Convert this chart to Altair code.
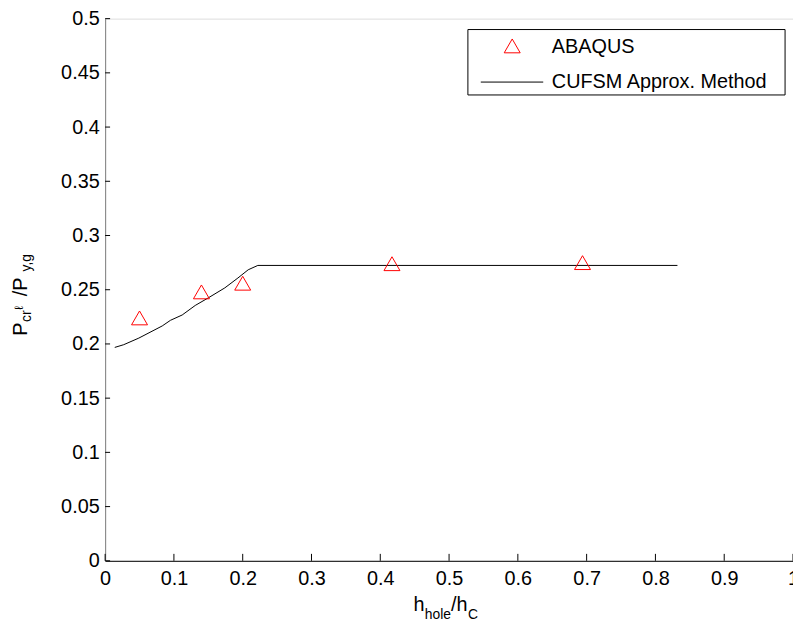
import altair as alt
import pandas as pd

# ---------------- data ----------------
curve_x = [0.014, 0.027, 0.049, 0.083, 0.095, 0.112, 0.131, 0.150, 0.174, 0.193, 0.208, 0.222, 0.832]
curve_y = [0.1968, 0.1993, 0.2054, 0.2166, 0.2218, 0.2267, 0.2355, 0.2425, 0.2517, 0.2608, 0.2684, 0.2724, 0.2724]
abaqus_x = [0.05, 0.14, 0.20, 0.417, 0.694]
abaqus_y = [0.224, 0.248, 0.256, 0.274, 0.275]
x_ticks = [0, 0.1, 0.2, 0.3, 0.4, 0.5, 0.6, 0.7, 0.8, 0.9, 1]
y_ticks = [0, 0.05, 0.1, 0.15, 0.2, 0.25, 0.3, 0.35, 0.4, 0.45, 0.5]
series_names = ["ABAQUS", "CUFSM Approx. Method"]

W, H = 694, 547
FONT = "Liberation Sans"
FS = 20

curve_df = pd.DataFrame({"x": curve_x, "y": curve_y})
abaqus_df = pd.DataFrame({"x": abaqus_x, "y": abaqus_y})
xt_df = pd.DataFrame({"v": x_ticks})
yt_df = pd.DataFrame({"v": y_ticks})
one = pd.DataFrame({"a": [0]})

xs = alt.Scale(domain=[0, 1], nice=False, zero=False)
ys = alt.Scale(domain=[0, 0.5], nice=False, zero=False)
xaxis = alt.Axis(values=x_ticks, format="~g", title="", grid=False, ticks=False, tickSize=0,
                 domainColor="#000000", labelFont=FONT, labelFontSize=FS, labelColor="#000000",
                 labelPadding=8, labelFlush=False, labelOverlap=False, labelBound=False)
yaxis = alt.Axis(values=y_ticks, format="~g", title="", grid=False, ticks=False, tickSize=0,
                 domainColor="#808080", labelFont=FONT, labelFontSize=FS, labelColor="#000000",
                 labelPadding=6, labelOverlap=False, labelBound=False)


def X(f):
    return alt.X(f, type="quantitative", scale=xs, axis=xaxis)


def Y(f):
    return alt.Y(f, type="quantitative", scale=ys, axis=yaxis)


line = alt.Chart(curve_df).mark_line(color="#000000", strokeWidth=1).encode(x=X("x"), y=Y("y"), order="x:Q")
pts = alt.Chart(abaqus_df).mark_point(shape="triangle-up", filled=False, color="#ff0000",
                                      size=260, strokeWidth=1, opacity=1).encode(x=X("x"), y=Y("y"))

xt = alt.Chart(xt_df).mark_rule(color="#000000", strokeWidth=1).encode(
    x=X("v"), y=alt.value(H), y2=alt.value(H - 7))
yt = alt.Chart(yt_df).mark_rule(color="#000000", strokeWidth=1).encode(
    y=Y("v"), x=alt.value(0), x2=alt.value(5))

# legend
leg_box = alt.Chart(one).mark_rect(fill="#ffffff", stroke="#000000", strokeWidth=1).encode(
    x=alt.value(366), x2=alt.value(686), y=alt.value(11), y2=alt.value(77))
leg_tri = alt.Chart(one).mark_point(shape="triangle-up", filled=False, color="#ff0000",
                                    size=260, strokeWidth=1, opacity=1).encode(
    x=alt.value(410.7), y=alt.value(27.5))
leg_line = alt.Chart(one).mark_rule(color="#000000", strokeWidth=1).encode(
    x=alt.value(379), x2=alt.value(442), y=alt.value(64))
leg_t1 = alt.Chart(one).mark_text(align="left", baseline="middle", font=FONT, fontSize=FS, color="#000000").encode(
    x=alt.value(450.7), y=alt.value(29), text=alt.value(series_names[0]))
leg_t2 = alt.Chart(one).mark_text(align="left", baseline="middle", font=FONT, fontSize=FS, color="#000000").encode(
    x=alt.value(450.7), y=alt.value(64), text=alt.value(series_names[1]))


def txt(s, x, y, size, angle=0, align="left", baseline="alphabetic"):
    kw = dict(align=align, baseline=baseline, font=FONT, fontSize=size, color="#000000")
    if angle:
        kw["angle"] = angle
    return alt.Chart(one).mark_text(**kw).encode(x=alt.value(x), y=alt.value(y), text=alt.value(s))


# x title: h_hole / h_C
xt_parts = [
    txt("h", 311, 598, FS),
    txt("hole", 322.5, 606, 14),
    txt("/h", 349, 598, FS),
    txt("C", 366, 606, 14),
]
# y title: P_{crℓ} / P_{y,g}
yt_parts = [
    txt("P", -79, 320, FS, angle=270),
    txt("cr", -75, 306, 14, angle=270),
    txt("\u2113", -83, 294, 12, angle=270),
    txt("/P", -79, 280, FS, angle=270),
    txt("y,g", -75, 255, 14, angle=270),
]

chart = alt.layer(
    xt, yt, line, pts, leg_box, leg_tri, leg_line, leg_t1, leg_t2, *xt_parts, *yt_parts
).properties(
    width=W, height=H,
    autosize=alt.AutoSizeParams(type="none"),
    padding={"left": 98, "top": 8, "right": 0, "bottom": 58},
).configure_view(strokeWidth=0).configure(background="#ffffff")

chart.save("out.html", embed_options={"renderer": "svg", "actions": False})
